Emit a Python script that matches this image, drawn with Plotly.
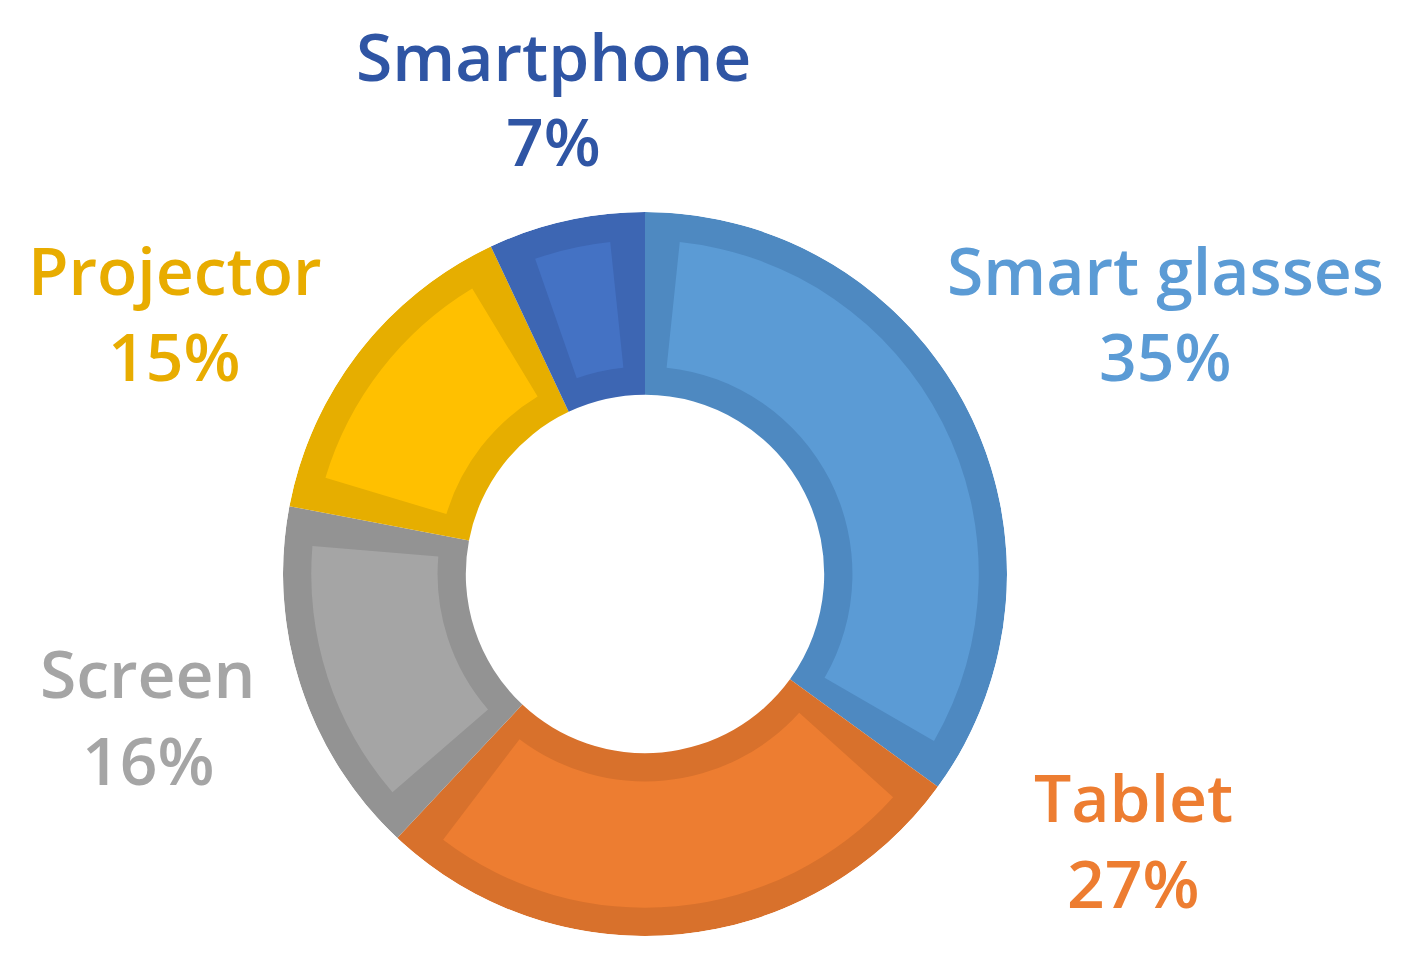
import plotly.graph_objects as go

# data, clockwise from 12 o'clock
devices = ["Smart glasses", "Tablet", "Screen", "Projector", "Smartphone"]
shares = [35, 27, 16, 15, 7]

# palette
fill_colors = ["#5B9BD5", "#ED7D31", "#A5A5A5", "#FFC000", "#4472C4"]
edge_colors = ["#4E89C1", "#D8712C", "#939393", "#E6AE00", "#3D66B3"]
text_colors = ["#5B9BD5", "#ED7D31", "#A5A5A5", "#E8AC00", "#2F55A4"]

# label placement in pixels: x center, y of the name line, y of the percent line
label_px = [(1157, 261, 347), (1125, 788, 874), (140, 664, 751), (166, 261, 347), (545, 47, 132)]

W, H = 1402, 956
R_IN, R_OUT, INSET = 0.495, 1.0, 0.078
total = sum(shares)
theta_mid, theta_w = [], []
acc = 0
for v in shares:
    theta_mid.append((acc + v / 2) / total * 360)
    theta_w.append(v / total * 360)
    acc += v

# angular inset so the light core sits ~INSET away from the radial edges
r_mid = (R_IN + R_OUT) / 2
d_theta = INSET / r_mid * 180 / 3.141592653589793

fig = go.Figure()
# outer darker ring
fig.add_trace(go.Barpolar(
    theta=theta_mid, width=theta_w,
    base=[R_IN] * len(shares), r=[R_OUT - R_IN] * len(shares),
    marker=dict(color=edge_colors, line=dict(width=0)),
    hoverinfo="skip", showlegend=False,
))
# lighter inner core of each slice
fig.add_trace(go.Barpolar(
    theta=theta_mid, width=[w - 2 * d_theta for w in theta_w],
    base=[R_IN + INSET] * len(shares), r=[R_OUT - R_IN - 2 * INSET] * len(shares),
    marker=dict(color=fill_colors, line=dict(width=0)),
    text=devices, hoverinfo="text", showlegend=False,
))

for name, v, c, (px, y1, y2) in zip(devices, shares, text_colors, label_px):
    for txt, py in ((name, y1), (f"{v}%", y2)):
        fig.add_annotation(
            x=px / W, y=1 - py / H, xref="paper", yref="paper",
            text=txt, showarrow=False,
            xanchor="center", yanchor="middle",
            font=dict(family="Open Sans", size=66, color=c, weight=600),
        )

fig.update_layout(
    width=W, height=H,
    template="none",
    paper_bgcolor="white",
    margin=dict(l=0, r=0, t=0, b=0),
    polar=dict(
        domain=dict(x=[275 / W, 999 / W], y=[1 - 928 / H, 1 - 204 / H]),
        bgcolor="rgba(0,0,0,0)",
        hole=0,
        radialaxis=dict(range=[0, R_OUT], visible=False),
        angularaxis=dict(rotation=90, direction="clockwise", visible=False),
    ),
)

fig.write_html("out.html")
